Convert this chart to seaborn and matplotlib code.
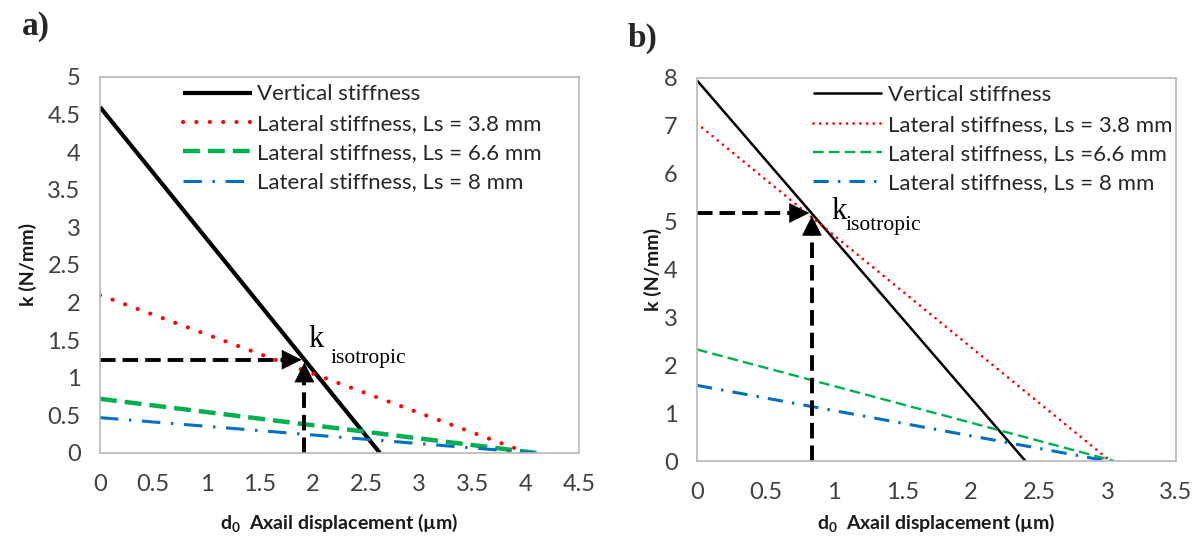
import pandas as pd
import matplotlib.pyplot as plt
import seaborn as sns
import numpy as np

# endpoints of each straight line (k at d0=0 and d0 where k reaches 0)
series = ['Vertical stiffness',
          'Lateral stiffness, Ls = 3.8 mm',
          'Lateral stiffness, Ls = 6.6 mm',
          'Lateral stiffness, Ls = 8 mm']
series_b = ['Vertical stiffness',
            'Lateral stiffness, Ls = 3.8 mm',
            'Lateral stiffness, Ls =6.6 mm',
            'Lateral stiffness, Ls = 8 mm']

k0_a = [4.60, 2.10, 0.72, 0.47]
d_end_a = [2.63, 4.02, 4.10, 4.08]
k_iso_a = (1.92, 1.24)

k0_b = [7.95, 7.05, 2.33, 1.58]
d_end_b = [2.40, 3.02, 3.05, 3.00]
k_iso_b = (0.84, 5.18)

xticks_a = np.arange(0, 4.51, 0.5)
yticks_a = np.arange(0, 5.01, 0.5)
xticks_b = np.arange(0, 3.51, 0.5)
yticks_b = np.arange(0, 8.01, 1)

colors = ['black', '#ff0000', '#00b050', '#0070c0']

sns.set_theme(style="white")
plt.rcParams['font.family'] = ['Lato', 'DejaVu Sans']
plt.rcParams['mathtext.fontset'] = 'custom'
plt.rcParams['mathtext.rm'] = 'Lato'
plt.rcParams['mathtext.bf'] = 'Lato:bold'


def build_df(names, k0, d_end):
    rows = []
    for n, k, d in zip(names, k0, d_end):
        rows.append({'d0': 0.0, 'k': k, 'serie': n})
        rows.append({'d0': d, 'k': 0.0, 'serie': n})
    return pd.DataFrame(rows)


def draw(ax, names, k0, d_end, k_iso, xt, yt, widths, styles, leg_x, k_off, sub_off,
         xlab_y, ylab_x):
    df = build_df(names, k0, d_end)
    for i, n in enumerate(names):
        sub = df[df['serie'] == n]
        sns.lineplot(data=sub, x='d0', y='k', ax=ax, color=colors[i],
                     linestyle=styles[i], linewidth=widths[i], label=n,
                     solid_capstyle='butt',
                     dash_capstyle='round' if i == 1 else 'butt')
    # dashed guides with arrows to the isotropic point
    x0, y0 = k_iso
    dx = 0.08 * xt[-1] / 4.5
    dy = 0.15 * yt[-1] / 5
    ax.plot([0, x0 - dx * 0.9], [y0, y0], color='black', ls=(0, (4, 1.8)), lw=2.8)
    ax.plot([x0, x0], [0, y0 - dy * 0.9], color='black', ls=(0, (4, 1.8)), lw=2.8)
    head = '-|>,head_length=0.9,head_width=0.45'
    ax.annotate('', xy=(x0, y0), xytext=(x0 - dx, y0),
                arrowprops=dict(arrowstyle=head, mutation_scale=15, color='black', lw=0.5))
    ax.annotate('', xy=(x0, y0), xytext=(x0, y0 - dy),
                arrowprops=dict(arrowstyle=head, mutation_scale=15, color='black', lw=0.5))
    ax.annotate('k', xy=(x0, y0), xytext=k_off, textcoords='offset points',
                fontsize=22, family='Liberation Serif', color='black',
                va='baseline', ha='left')
    ax.annotate('isotropic', xy=(x0, y0), xytext=sub_off, textcoords='offset points',
                fontsize=15.5, family='Liberation Serif', color='black',
                va='baseline', ha='left')

    ax.set_xlim(xt[0], xt[-1])
    ax.set_ylim(yt[0], yt[-1])
    ax.set_xticks(xt)
    ax.set_yticks(yt)
    ax.set_xticklabels([f'{v:g}' for v in xt])
    ax.set_yticklabels([f'{v:g}' for v in yt])
    ax.tick_params(axis='both', labelsize=17, labelcolor='#404040', length=0)
    ax.tick_params(axis='x', pad=15)
    ax.tick_params(axis='y', pad=14)
    for s in ax.spines.values():
        s.set_color('#b8b8b8')
        s.set_linewidth(1.2)
    ax.set_xlabel('$\\mathbf{d_0}$  Axail displacement (\u00b5m)',
                  fontsize=14, fontweight='bold', color='#1a1a1a', va='center')
    ax.set_ylabel('k (N/mm)', fontsize=14, fontweight='bold', color='#1a1a1a', va='center')
    ax.xaxis.set_label_coords(0.5, xlab_y)
    ax.yaxis.set_label_coords(ylab_x, 0.5)
    leg = ax.legend(loc='upper left', bbox_to_anchor=(leg_x, 1.01), frameon=False,
                    fontsize=16, handlelength=3.1, handletextpad=0.25,
                    labelspacing=0.42, borderaxespad=0.1)
    for t in leg.get_texts():
        t.set_color('#262626')


fig = plt.figure(figsize=(11.99, 5.36), dpi=100)
ax_a = fig.add_axes([0.0834, 0.1549, 0.3995, 0.7015])
ax_b = fig.add_axes([0.5813, 0.1399, 0.3995, 0.7146])

styles_a = ['-', (0, (0.01, 3.2)), (0, (3.8, 1.8)), (0, (6, 3.5, 0.8, 3.5))]
styles_b = ['-', (0, (0.01, 2.4)), (0, (4.5, 2.2)), (0, (5, 3, 0.8, 3))]

draw(ax_a, series, k0_a, d_end_a, k_iso_a, xticks_a, yticks_a,
     [3.0, 3.0, 3.2, 2.2], styles_a, 0.15, (3, 9), (19, -2), -0.186, -0.150)
draw(ax_b, series_b, k0_b, d_end_b, k_iso_b, xticks_b, yticks_b,
     [1.8, 2.0, 1.7, 2.2], styles_b, 0.22, (14, -4), (24, -12), -0.162, -0.092)

fig.text(0.018, 0.935, 'a)', fontsize=24, fontweight='bold', family='Liberation Serif')
fig.text(0.523, 0.912, 'b)', fontsize=24, fontweight='bold', family='Liberation Serif')

fig.savefig('out.png', dpi=100)
